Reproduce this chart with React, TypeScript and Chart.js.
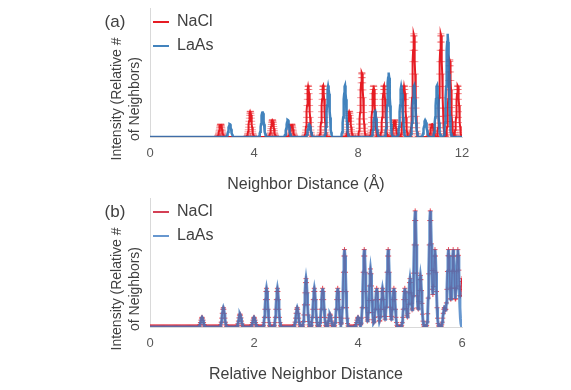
import React, { useEffect, useRef } from 'react';
import { Chart, registerables } from 'chart.js';

Chart.register(...registerables);

const FONT = '"Liberation Sans", Arial, Helvetica, sans-serif';
const TEXT = '#404040';
const TICK = '#595959';
const AXIS = '#d9d9d9';

// ---- Panel (a): neighbor shells (distance in Å, # of neighbors) ----
const NACL_DIST_A = [2.72, 3.86, 4.71, 5.45, 6.09, 6.66, 7.67, 8.15, 8.6, 9.0, 9.41, 9.78, 10.15, 10.85, 11.19, 11.53, 11.84];
const NACL_N_A = [6, 12, 8, 6, 24, 24, 12, 30, 24, 24, 8, 24, 48, 6, 48, 36, 24];
const LAAS_DIST_A = [3.07, 4.33, 5.3, 6.13, 6.86, 7.5, 8.66, 9.18, 9.67, 10.16, 10.59, 11.04, 11.45];
const LAAS_N_A = [6, 12, 8, 6, 24, 24, 12, 30, 24, 24, 8, 24, 48];
const X_TICKS_A = [0, 4, 8, 12];
const Y_MAX_A = 60;

// ---- Panel (b): relative neighbor distance ----
const REL_DIST_B = [1.0, 1.41, 1.73, 2.0, 2.24, 2.45, 2.83, 3.0, 3.16, 3.32, 3.46, 3.61, 3.74, 4.0, 4.12, 4.24, 4.36, 4.47, 4.58, 4.69, 4.9, 5.0, 5.1, 5.2, 5.39, 5.48, 5.66, 5.74, 5.83, 5.92, 6.0];
const NACL_N_B = [6, 12, 8, 6, 24, 24, 12, 30, 24, 24, 8, 24, 48, 6, 48, 36, 24, 24, 48, 24, 24, 30, 72, 32, 72, 48, 12, 48, 48, 48, 30];
const LAAS_N_B = [6, 12, 8, 6, 24, 24, 12, 30, 24, 24, 8, 24, 48, 6, 48, 36, 24, 24, 48, 24, 24, 30, 72, 32, 72, 48, 12, 48, 48, 48, 0];
const X_TICKS_B = [0, 2, 4, 6];
const Y_MAX_B = 80;

// relative peak profiles (centre, then each sample step outward), read from the peak shapes
const PEAK_SHAPE_A = [1, 0.98, 0.92, 0.84, 0.73, 0.61, 0.49, 0.38, 0.28, 0.2, 0.135, 0.09, 0.056, 0.034, 0.02];
const PEAK_SHAPE_B = [1, 0.917, 0.707, 0.458, 0.249, 0.114, 0.044, 0.014];

function buildCurve(dist: number[], counts: number[], xMax: number, step: number, shape: number[]) {
  const n = Math.round(xMax / step);
  const ys: number[] = new Array(n + 1).fill(0);
  dist.forEach((d, k) => {
    const c = Math.round(d / step);
    for (let j = -(shape.length - 1); j < shape.length; j++) {
      const i = c + j;
      if (i >= 0 && i <= n) ys[i] += counts[k] * shape[Math.abs(j)];
    }
  });
  return ys.map((y, i) => ({ x: +(i * step).toFixed(4), y }));
}

type PanelProps = {
  top: number;
  label: string;
  xTitle: string;
  ticks: number[];
  yMax: number;
  nacl: { x: number; y: number }[];
  laas: { x: number; y: number }[];
  red: string;
  redMark: string;
  markStyle: string;
  blue: string;
  blueWidth: number;
  redWidth: number;
  markRadius: number;
};

function Panel(p: PanelProps) {
  const ref = useRef<HTMLCanvasElement>(null);
  useEffect(() => {
    const chart = new Chart(ref.current as HTMLCanvasElement, {
      type: 'line',
      data: {
        datasets: [
          {
            label: 'NaCl',
            data: p.nacl,
            order: 1,
            borderColor: p.red,
            backgroundColor: p.red,
            borderWidth: p.redWidth,
            pointStyle: p.markStyle,
            pointRadius: p.markRadius,
            pointBorderColor: p.redMark,
            pointBackgroundColor: p.redMark,
            pointBorderWidth: 1,
            tension: 0,
            fill: false,
          },
          {
            label: 'LaAs',
            data: p.laas,
            order: 0,
            borderColor: p.blue,
            backgroundColor: p.blue,
            borderWidth: p.blueWidth,
            pointRadius: 0,
            tension: 0,
            fill: false,
          },
        ],
      },
      options: {
        responsive: false,
        animation: false,
        events: [],
        layout: { padding: { left: 150, right: 109, top: 8, bottom: 1.2 } },
        scales: {
          x: {
            type: 'linear',
            min: p.ticks[0],
            max: p.ticks[p.ticks.length - 1],
            grid: { display: false, drawTicks: false },
            border: { display: true, color: AXIS, width: 1 },
            ticks: {
              stepSize: p.ticks[1] - p.ticks[0],
              padding: 9,
              color: TICK,
              maxRotation: 0,
              autoSkip: false,
              font: { family: FONT, size: 13 },
            },
            title: {
              display: true,
              text: p.xTitle,
              color: TEXT,
              font: { family: FONT, size: 16 },
              padding: { top: 4, bottom: 0 },
            },
          },
          y: {
            type: 'linear',
            min: 0,
            max: p.yMax,
            grid: { display: false, drawTicks: false },
            border: { display: true, color: AXIS, width: 1 },
            ticks: { display: false },
            afterFit: (s: any) => {
              s.width = 0;
            },
          },
        },
        plugins: {
          tooltip: { enabled: false },
          legend: {
            display: true,
            position: 'chartArea',
            align: 'start',
            title: { display: true, text: '', font: { size: 1, lineHeight: 1 }, padding: { top: 0, bottom: 10 } },
            labels: {
              boxWidth: 16,
              boxHeight: 2,
              padding: 3,
              color: TEXT,
              font: { family: FONT, size: 16, lineHeight: '21px' },
              generateLabels: (c: any) =>
                c.data.datasets.map((ds: any, i: number) => ({
                  text: [ds.label],
                  fillStyle: ds.borderColor,
                  strokeStyle: ds.borderColor,
                  lineWidth: 0,
                  hidden: false,
                  datasetIndex: i,
                  fontColor: TEXT,
                })),
            },
          },
        },
      } as any,
    });
    return () => chart.destroy();
  }, []);

  return (
    <div style={{ position: 'absolute', left: 0, top: p.top, width: 571, height: 195 }}>
      <canvas ref={ref} width={571} height={195} style={{ display: 'block', width: 571, height: 195 }} />
      <div
        style={{
          position: 'absolute',
          left: 115,
          top: 22,
          transform: 'translate(-50%, -50%)',
          fontFamily: FONT,
          fontSize: 17,
          color: TEXT,
          whiteSpace: 'nowrap',
          lineHeight: '20px',
        }}
      >
        {p.label}
      </div>
      <div
        style={{
          position: 'absolute',
          left: 125,
          top: 99,
          transform: 'translate(-50%, -50%) rotate(-90deg)',
          fontFamily: FONT,
          fontSize: 14,
          color: TEXT,
          whiteSpace: 'nowrap',
          lineHeight: '18px',
          textAlign: 'center',
        }}
      >
        Intensity (Relative #
        <br />
        of Neighbors)
      </div>
    </div>
  );
}

export default function App() {
  const naclA = buildCurve(NACL_DIST_A, NACL_N_A, 12, 0.01, PEAK_SHAPE_A);
  const laasA = buildCurve(LAAS_DIST_A, LAAS_N_A, 12, 0.01, PEAK_SHAPE_A);
  const naclB = buildCurve(REL_DIST_B, NACL_N_B, 6, 0.01, PEAK_SHAPE_B);
  const laasB = buildCurve(REL_DIST_B, LAAS_N_B, 6, 0.01, PEAK_SHAPE_B);
  return (
    <div style={{ position: 'absolute', left: 0, top: 0, width: 571, height: 390, background: '#fff', overflow: 'hidden' }}>
      <Panel
        top={0}
        label="(a)"
        xTitle="Neighbor Distance (Å)"
        ticks={X_TICKS_A}
        yMax={Y_MAX_A}
        nacl={naclA}
        laas={laasA}
        red="rgb(230, 28, 36)"
        redMark="rgba(230, 28, 36, 0.45)"
        markStyle="line"
        blue="rgba(46, 117, 182, 0.9)"
        blueWidth={2.5}
        redWidth={2}
        markRadius={3.5}
      />
      <Panel
        top={190}
        label="(b)"
        xTitle="Relative Neighbor Distance"
        ticks={X_TICKS_B}
        yMax={Y_MAX_B}
        nacl={naclB}
        laas={laasB}
        red="rgba(205, 30, 55, 0.85)"
        redMark="rgba(228, 30, 45, 0.8)"
        markStyle="cross"
        blue="rgba(65, 125, 195, 0.8)"
        blueWidth={3}
        redWidth={1.5}
        markRadius={2.5}
      />
    </div>
  );
}
